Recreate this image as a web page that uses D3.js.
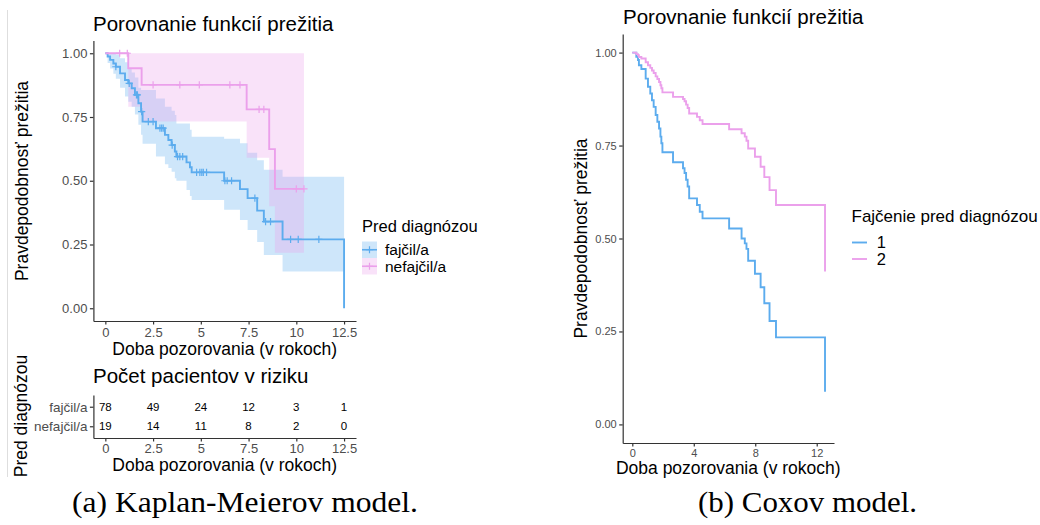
<!DOCTYPE html>
<html><head><meta charset="utf-8">
<script src="https://cdn.jsdelivr.net/npm/d3@7"></script>
<style>
body{margin:0;background:#fff}
svg{display:block}
</style>
</head><body>
<svg id="c" width="1040" height="525"></svg>
<script>
// ---------------- DATA ----------------
const groupsA = ["fajčil/a", "nefajčil/a"];
const groupsB = ["1", "2"];
const yTicks = [0, 0.25, 0.5, 0.75, 1];
const xTicksA = [0, 2.5, 5, 7.5, 10, 12.5];
const xTicksB = [0, 4, 8, 12];

// Kaplan-Meier, smokers (fajčil/a)
const kmSmokerTime  = [0, 0.12, 0.25, 0.42, 0.55, 0.77, 1.03, 1.2, 1.38, 1.55, 1.73, 1.87, 1.95, 2.65, 3.12, 3.3, 3.47, 3.64, 3.72, 4.25, 4.43, 4.52, 6.22, 7.05, 7.45, 7.95, 8.3, 9.28, 12.5];
const kmSmokerSurv  = [1, 0.987, 0.974, 0.96, 0.947, 0.921, 0.895, 0.882, 0.863, 0.837, 0.804, 0.771, 0.732, 0.706, 0.68, 0.66, 0.64, 0.615, 0.595, 0.572, 0.553, 0.533, 0.5, 0.467, 0.432, 0.383, 0.34, 0.27, 0];
const kmSmokerLower = [1, 0.962, 0.94, 0.92, 0.9, 0.865, 0.83, 0.81, 0.79, 0.76, 0.72, 0.68, 0.645, 0.595, 0.565, 0.55, 0.535, 0.51, 0.5, 0.464, 0.44, 0.425, 0.386, 0.346, 0.307, 0.26, 0.209, 0.144, 0.144];
const kmSmokerUpper = [1, 1, 1, 1, 0.995, 0.98, 0.965, 0.94, 0.925, 0.905, 0.865, 0.856, 0.856, 0.823, 0.79, 0.79, 0.775, 0.758, 0.725, 0.725, 0.7, 0.673, 0.665, 0.647, 0.61, 0.58, 0.543, 0.516, 0.516];
const kmSmokerCensor = [0.55, 1.25, 1.63, 1.68, 1.9, 2.25, 2.5, 2.86, 2.95, 3.03, 3.5, 3.78, 3.9, 4.05, 4.78, 4.95, 5.05, 5.13, 5.3, 6.26, 6.38, 6.61, 7.83, 8.39, 8.65, 9.7, 10.1, 11.18];

// Kaplan-Meier, non-smokers (nefajčil/a)
const kmNonTime  = [0, 1.2, 1.9, 7.4, 8.58, 8.88, 10.4];
const kmNonSurv  = [1, 0.941, 0.876, 0.78, 0.624, 0.468, 0.468];
const kmNonLower = [1, 0.79, 0.732, 0.59, 0.4, 0.218, 0.218];
const kmNonUpper = [1, 1, 1, 1, 1, 1, 1];
const kmNonCensor = [0.75, 1.15, 2.5, 3.9, 4.92, 6.52, 7.05, 8.05, 8.3, 10.0, 10.4];

// Risk table
const riskTimes  = [0, 2.5, 5, 7.5, 10, 12.5];
const riskSmoker = [78, 49, 24, 12, 3, 1];
const riskNon    = [19, 14, 11, 8, 2, 0];

// Cox model curves
const coxTime = [0, 0.26, 0.37, 0.43, 0.59, 0.87, 1.02, 1.17, 1.28, 1.39, 1.52, 1.63, 1.74, 1.83, 1.89, 1.96, 2.65, 3.3, 3.4, 3.5, 3.6, 3.7, 4.21, 4.39, 4.57, 6.3, 7.11, 7.32, 7.43, 7.54, 7.98, 8.35, 8.59, 8.93, 9.35, 12.54];
const coxS1   = [1, 0.989, 0.98, 0.966, 0.956, 0.93, 0.908, 0.89, 0.872, 0.854, 0.832, 0.814, 0.796, 0.774, 0.756, 0.732, 0.705, 0.689, 0.676, 0.658, 0.64, 0.608, 0.59, 0.572, 0.554, 0.527, 0.5, 0.487, 0.472, 0.44, 0.405, 0.369, 0.326, 0.278, 0.234, 0.088];
const coxS2   = [1, 0.996, 0.993, 0.988, 0.984, 0.974, 0.966, 0.959, 0.952, 0.945, 0.936, 0.929, 0.921, 0.912, 0.904, 0.893, 0.881, 0.875, 0.869, 0.86, 0.851, 0.836, 0.827, 0.818, 0.808, 0.794, 0.783, 0.774, 0.763, 0.742, 0.72, 0.693, 0.665, 0.63, 0.59, 0.411];

// ---------------- STYLE ----------------
const BLUE = "#5CACEE", PINK = "#EBA0EB";
const FONT = "'Liberation Sans', Arial, sans-serif";
const SERIF = "'Liberation Serif', 'Times New Roman', serif";
const AXC = "#333333", TXC = "#4d4d4d";

const svg = d3.select("#c");

function styleAxis(g, fs) {
  g.attr("font-family", FONT).attr("font-size", fs);
  g.select(".domain").attr("stroke", AXC).attr("stroke-width", 1.2);
  g.selectAll(".tick line").attr("stroke", AXC).attr("stroke-width", 1.2);
  g.selectAll(".tick text").attr("fill", TXC);
}
function txt(x, y, s, fs, opts = {}) {
  const t = svg.append("text").attr("x", x).attr("y", y).text(s)
    .attr("font-family", opts.family || FONT).attr("font-size", fs)
    .attr("fill", opts.fill || "#000").attr("text-anchor", opts.anchor || "start");
  if (opts.rotate) t.attr("transform", `rotate(-90,${x},${y})`);
  if (opts.len) t.attr("textLength", opts.len).attr("lengthAdjust", "spacingAndGlyphs");
  return t;
}
function stepVal(times, vals, t) {
  const i = d3.bisectRight(times, t) - 1;
  return vals[Math.max(0, i)];
}

// faint page border line at left
svg.append("line").attr("x1", 7.5).attr("x2", 7.5).attr("y1", 10).attr("y2", 477)
  .attr("stroke", "#dedede").attr("stroke-width", 1);

// ---------------- PANEL A ----------------
const xA = d3.scaleLinear().domain([-0.625, 13.125]).range([93.4, 356]);
const yA = d3.scaleLinear().domain([-0.05, 1.05]).range([321, 40.5]);

const areaA = d3.area().curve(d3.curveStepAfter)
  .x(d => xA(d.t)).y0(d => yA(d.lo)).y1(d => yA(d.hi));
const lineA = d3.line().curve(d3.curveStepAfter).x(d => xA(d.t)).y(d => yA(d.s));

const smoker = kmSmokerTime.map((t, i) => ({t, s: kmSmokerSurv[i], lo: kmSmokerLower[i], hi: kmSmokerUpper[i]}));
const nonsm  = kmNonTime.map((t, i) => ({t, s: kmNonSurv[i], lo: kmNonLower[i], hi: kmNonUpper[i]}));

svg.append("path").attr("d", areaA(smoker)).attr("fill", BLUE).attr("fill-opacity", 0.3);
svg.append("path").attr("d", areaA(nonsm)).attr("fill", PINK).attr("fill-opacity", 0.3);
svg.append("path").attr("d", lineA(smoker)).attr("fill", "none").attr("stroke", BLUE).attr("stroke-width", 1.9);
svg.append("path").attr("d", lineA(nonsm)).attr("fill", "none").attr("stroke", PINK).attr("stroke-width", 1.9);

const cross = "M-3.6,0H3.6M0,-3.6V3.6";
function censor(times, vals, cens, color) {
  svg.append("g").selectAll("path").data(cens).join("path")
    .attr("d", cross)
    .attr("transform", t => `translate(${xA(t)},${yA(stepVal(times, vals, t))})`)
    .attr("stroke", color).attr("stroke-width", 1.2).attr("fill", "none");
}
censor(kmSmokerTime, kmSmokerSurv, kmSmokerCensor, BLUE);
censor(kmNonTime, kmNonSurv, kmNonCensor, PINK);

const gyA = svg.append("g").attr("transform", `translate(${xA.range()[0]},0)`)
  .call(d3.axisLeft(yA).tickValues(yTicks).tickFormat(d3.format(".2f")).tickSize(3.5).tickPadding(2.5).tickSizeOuter(0));
styleAxis(gyA, 13);
const gxA = svg.append("g").attr("transform", `translate(0,${yA.range()[0]})`)
  .call(d3.axisBottom(xA).tickValues(xTicksA).tickFormat(d => String(d)).tickSize(3.5).tickPadding(2.8).tickSizeOuter(0));
styleAxis(gxA, 13);

txt(93, 31, "Porovnanie funkcií prežitia", 20.5);
txt(28, 181, "Pravdepodobnosť prežitia", 17.5, {anchor: "middle", rotate: true});
txt(224.7, 355, "Doba pozorovania (v rokoch)", 17.5, {anchor: "middle"});

// legend A
const legA = svg.append("g");
txt(362, 232, "Pred diagnózou", 16.5);
[BLUE, PINK].forEach((c, i) => {
  const y0 = 241.5 + i * 16.5;
  legA.append("rect").attr("x", 362).attr("y", y0).attr("width", 15).attr("height", 16.5)
    .attr("fill", c).attr("fill-opacity", 0.3);
  legA.append("path").attr("d", `M362,${y0 + 8.25}H377`).attr("stroke", c).attr("stroke-width", 1.6);
  legA.append("path").attr("d", cross).attr("transform", `translate(369.5,${y0 + 8.25})`)
    .attr("stroke", c).attr("stroke-width", 1.2);
  txt(385, y0 + 13.6, groupsA[i], 15.5);
});

// ---------------- RISK TABLE ----------------
const yR = d3.scalePoint().domain(groupsA).range([395, 438]).padding(0.6);
const gyR = svg.append("g").attr("transform", `translate(${xA.range()[0]},0)`)
  .call(d3.axisLeft(yR).tickSize(3.5).tickPadding(2.5).tickSizeOuter(0));
styleAxis(gyR, 13.5);
const gxR = svg.append("g").attr("transform", `translate(0,438)`)
  .call(d3.axisBottom(xA).tickValues(xTicksA).tickFormat(d => String(d)).tickSize(3.5).tickPadding(2.5).tickSizeOuter(0));
styleAxis(gxR, 13);

[riskSmoker, riskNon].forEach((arr, gi) => {
  svg.append("g").selectAll("text").data(arr).join("text")
    .attr("x", (d, i) => xA(riskTimes[i])).attr("y", yR(groupsA[gi])).attr("dy", "0.36em")
    .attr("text-anchor", "middle").attr("font-family", FONT).attr("font-size", 11.5).attr("fill", "#000")
    .text(d => d);
});
txt(93, 383, "Počet pacientov v riziku", 20.5);
txt(224.7, 470.5, "Doba pozorovania (v rokoch)", 17.5, {anchor: "middle"});
txt(27, 416, "Pred diagnózou", 17.5, {anchor: "middle", rotate: true});

// ---------------- PANEL B ----------------
const xB = d3.scaleLinear().domain([-0.625, 13.125]).range([622.7, 834]);
const yB = d3.scaleLinear().domain([-0.05, 1.05]).range([443, 34]);
const lineB = d3.line().curve(d3.curveStepAfter).x(d => xB(d.t)).y(d => yB(d.s));
const cox1 = coxTime.map((t, i) => ({t, s: coxS1[i]}));
const cox2 = coxTime.map((t, i) => ({t, s: coxS2[i]}));
svg.append("path").attr("d", lineB(cox1)).attr("fill", "none").attr("stroke", BLUE).attr("stroke-width", 1.9);
svg.append("path").attr("d", lineB(cox2)).attr("fill", "none").attr("stroke", PINK).attr("stroke-width", 1.9);

const gyB = svg.append("g").attr("transform", `translate(${xB.range()[0]},0)`)
  .call(d3.axisLeft(yB).tickValues(yTicks).tickFormat(d3.format(".2f")).tickSize(3.5).tickPadding(2.5).tickSizeOuter(0));
styleAxis(gyB, 11);
const gxB = svg.append("g").attr("transform", `translate(0,${yB.range()[0]})`)
  .call(d3.axisBottom(xB).tickValues(xTicksB).tickFormat(d => String(d)).tickSize(3.5).tickPadding(2.4).tickSizeOuter(0));
styleAxis(gxB, 11);

txt(623, 24, "Porovnanie funkcií prežitia", 20.5);
txt(587, 238.5, "Pravdepodobnosť prežitia", 17.5, {anchor: "middle", rotate: true});
txt(728.3, 473.5, "Doba pozorovania (v rokoch)", 17.5, {anchor: "middle"});

txt(851.5, 222, "Fajčenie pred diagnózou", 17);
[BLUE, PINK].forEach((c, i) => {
  const yc = 242.5 + i * 16.5;
  svg.append("path").attr("d", `M852,${yc}H867`).attr("stroke", c).attr("stroke-width", 1.9);
  txt(876.7, yc + 5.8, groupsB[i], 16.5);
});

// ---------------- CAPTIONS ----------------
txt(245, 512, "(a) Kaplan-Meierov model.", 29, {anchor: "middle", family: SERIF, len: 346});
txt(807.5, 512, "(b) Coxov model.", 29, {anchor: "middle", family: SERIF, len: 219});
</script>
</body></html>
